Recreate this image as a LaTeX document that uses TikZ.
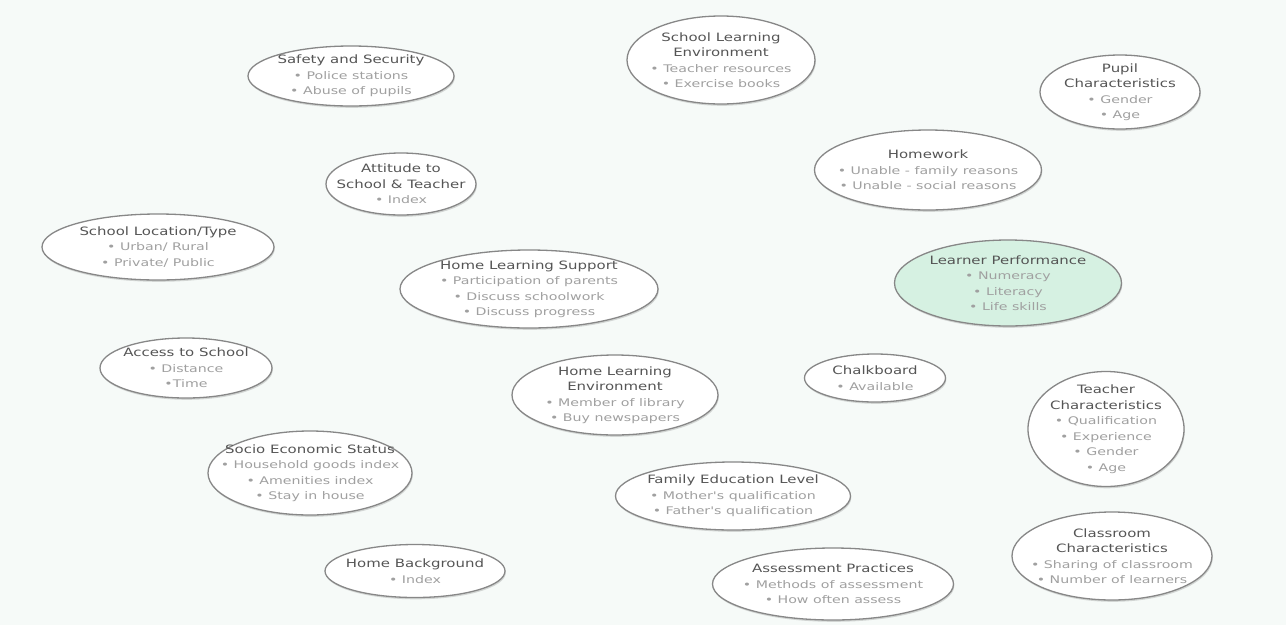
\documentclass[tikz,border=0pt]{standalone}
\usepackage{fontspec}
\setmainfont{DejaVu Sans}
\newfontfamily\headfont[FakeStretch=1.3]{DejaVu Sans}
\newfontfamily\itemfont[FakeStretch=1.35]{DejaVu Sans}
\usetikzlibrary{shapes.geometric,shadows}

\definecolor{bgmint}{RGB}{246,250,248}
\definecolor{rimgray}{RGB}{135,135,135}
\definecolor{headgray}{RGB}{85,85,85}
\definecolor{itemgray}{RGB}{160,160,160}
\definecolor{perfgreen}{RGB}{214,241,226}

\newcommand{\hd}[1]{{\headfont\fontsize{11.5}{15.5}\selectfont\color{headgray}#1}}
\newcommand{\itm}[1]{{\itemfont\fontsize{10.5}{15.5}\selectfont\color{itemgray}#1}}

\begin{document}
\begin{tikzpicture}[x=1pt,y=-1pt,
    factor/.style={ellipse,draw=rimgray,line width=1.3pt,fill=white,inner sep=-20pt,align=center,
        font=\fontsize{11}{15.5}\selectfont,
        drop shadow={shadow xshift=0.8pt,shadow yshift=-1.8pt,opacity=0.3}},
    outcome/.style={factor,fill=perfgreen}]

    \fill [bgmint] (0,0) rectangle (1286,625);
    \useasboundingbox (0,0) rectangle (1286,625);

    % top row
    \node [factor,minimum width=206pt,minimum height=60pt] (safety) at (351,76)
        {\hd{Safety and Security}\\\itm{• Police stations}\\\itm{• Abuse of pupils}};
    \node [factor,minimum width=188pt,minimum height=88pt] (schoolenv) at (721,60)
        {\hd{School Learning}\\\hd{Environment}\\\itm{• Teacher resources}\\\itm{• Exercise books}};
    \node [factor,minimum width=160pt,minimum height=74pt] (pupil) at (1120,92)
        {\hd{Pupil}\\\hd{Characteristics}\\\itm{• Gender}\\\itm{• Age}};

    \node [factor,minimum width=150pt,minimum height=62pt] (attitude) at (401,184)
        {\hd{Attitude to}\\\hd{School \& Teacher}\\\itm{• Index}};
    \node [factor,minimum width=227pt,minimum height=80pt] (homework) at (928,170)
        {\hd{Homework}\\\itm{• Unable - family reasons}\\\itm{• Unable - social reasons}};

    % middle
    \node [factor,minimum width=232pt,minimum height=66pt] (location) at (158,247)
        {\hd{School Location/Type}\\\itm{• Urban/ Rural}\\\itm{• Private/ Public}};
    \node [factor,minimum width=258pt,minimum height=78pt] (homesupport) at (529,289)
        {\hd{Home Learning Support}\\\itm{• Participation of parents}\\\itm{• Discuss schoolwork}\\\itm{• Discuss progress}};
    \node [outcome,minimum width=227pt,minimum height=86pt] (performance) at (1008,283)
        {\hd{Learner Performance}\\\itm{• Numeracy}\\\itm{• Literacy}\\\itm{• Life skills}};

    \node [factor,minimum width=172pt,minimum height=60pt] (access) at (186,368)
        {\hd{Access to School}\\\itm{• Distance}\\\itm{•Time}};
    \node [factor,minimum width=206pt,minimum height=80pt] (homeenv) at (615,395)
        {\hd{Home Learning}\\\hd{Environment}\\\itm{• Member of library}\\\itm{• Buy newspapers}};
    \node [factor,minimum width=141pt,minimum height=48pt] (chalk) at (875,378)
        {\hd{Chalkboard}\\\itm{• Available}};
    \node [factor,minimum width=156pt,minimum height=115pt] (teacher) at (1106,429)
        {\hd{Teacher}\\\hd{Characteristics}\\\itm{• Qualification}\\\itm{• Experience}\\\itm{• Gender}\\\itm{• Age}};

    % bottom
    \node [factor,minimum width=204pt,minimum height=84pt] (socio) at (310,473)
        {\hd{Socio Economic Status}\\\itm{• Household goods index}\\\itm{• Amenities index}\\\itm{• Stay in house}};
    \node [factor,minimum width=235pt,minimum height=68pt] (family) at (733,496)
        {\hd{Family Education Level}\\\itm{• Mother's qualification}\\\itm{• Father's qualification}};
    \node [factor,minimum width=200pt,minimum height=88pt] (classroom) at (1112,556)
        {\hd{Classroom}\\\hd{Characteristics}\\\itm{• Sharing of classroom}\\\itm{• Number of learners}};
    \node [factor,minimum width=180pt,minimum height=53pt] (background) at (415,571)
        {\hd{Home Background}\\\itm{• Index}};
    \node [factor,minimum width=241pt,minimum height=72pt] (assessment) at (833,584)
        {\hd{Assessment Practices}\\\itm{• Methods of assessment}\\\itm{• How often assess}};

\end{tikzpicture}
\end{document}
